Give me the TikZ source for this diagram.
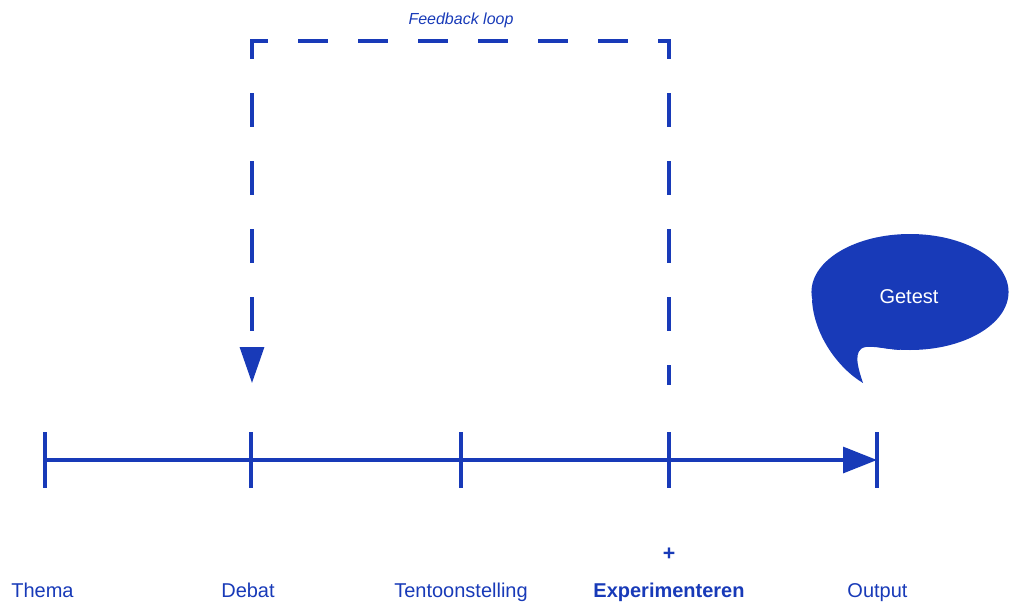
\documentclass[tikz,border=0pt]{standalone}
\usepackage{fontspec}
\setmainfont{Liberation Sans}
\usetikzlibrary{arrows.meta}
\definecolor{tlblue}{RGB}{24,58,184}
\tikzset{every picture/.style={line width=0.75pt}}

\begin{document}
\begin{tikzpicture}[x=0.75pt,y=0.75pt,yscale=-1,xscale=1,
	axisline/.style={draw=tlblue, line width=2.4pt},
	loopline/.style={draw=tlblue, line width=2.4pt, line cap=rect},
	tltext/.style={text=tlblue, font=\fontsize{15}{18}\selectfont, anchor=base, inner sep=0pt}]
	\useasboundingbox (0,0) rectangle (1014,607);

	%Coordinates of the ticks
	\coordinate (t1) at (45,460);
	\coordinate (t2) at (251,460);
	\coordinate (t3) at (461,460);
	\coordinate (t4) at (669,460);
	\coordinate (t5) at (877,460);
	%Coordinates of the loop
	\coordinate (fbA) at (669,383);
	\coordinate (fbB) at (669,41);
	\coordinate (fbC) at (252,41);
	\coordinate (fbD) at (252,383);

	%Straight Lines: timeline
	\draw [axisline, -{Triangle[length=25.5pt,width=19.5pt]}] (t1) -- (t5) ;
	%Straight Lines: ticks
	\foreach \t in {t1,t2,t3,t4,t5}
		\draw [axisline] (\t) ++(0,-28) -- ++(0,56) ;

	%Straight Lines: feedback loop
	\draw [loopline, dash pattern={on 23pt off 28pt}, dash phase=10.8pt] (fbA) -- (fbB) ;
	\draw [loopline, dash pattern={on 20pt off 25pt}, dash phase=9.3pt] (fbC) -- (fbB) ;
	\draw [loopline, dash pattern={on 23pt off 28pt}, dash phase=10.8pt, -{Triangle[length=27pt,width=18pt]}] (fbC) -- (fbD) ;

	%Shape: speech bubble
	\fill [tlblue] (910,292) ellipse [x radius=73.9pt, y radius=43.5pt] ;
	\fill [tlblue] (812,300) .. controls (814,335) and (838,368) .. (863,383) .. controls (858,368) and (852,349) .. (866,347) .. controls (875,346) and (885,349) .. (900,350) -- (900,300) -- cycle ;

	% Text Node
	\node [tltext, font=\fontsize{12}{14}\selectfont\itshape] (fbtext) at (461,24) {Feedback loop};
	% Text Node
	\node [tltext, text=white] (getest) at (909,303) {Getest};
	% Text Node
	\node [tltext] (thema) at (42.5,597) {Thema};
	% Text Node
	\node [tltext] (debat) at (248,597) {Debat};
	% Text Node
	\node [tltext] (tentoon) at (461,597) {Tentoonstelling};
	% Text Node
	\node [tltext, font=\fontsize{15}{18}\selectfont\bfseries] (exper) at (669,597) {Experimenteren};
	% Text Node
	\node [tltext, font=\fontsize{16}{18}\selectfont\bfseries] (plus) at (669,560) {+};
	% Text Node
	\node [tltext] (output) at (877.5,597) {Output};

\end{tikzpicture}
\end{document}
